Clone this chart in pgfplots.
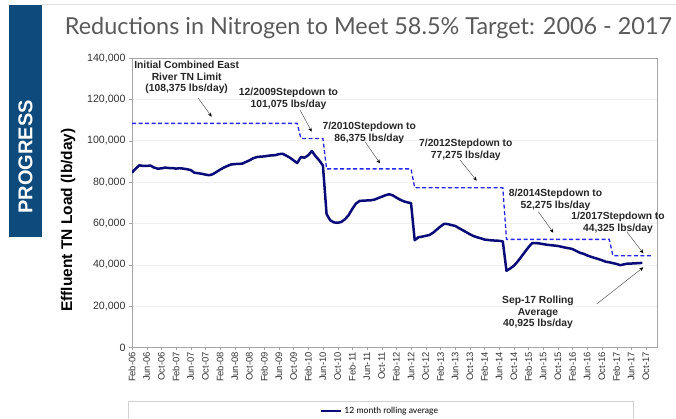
\documentclass[border=0pt]{standalone}
\usepackage{fontspec}
\setmainfont{Liberation Sans}
\newfontfamily\titlefont{Lato}
\usepackage{pgfplots}
\pgfplotsset{compat=1.18}
\usetikzlibrary{arrows.meta}
\definecolor{navy}{RGB}{10,10,120}
\definecolor{dashblue}{RGB}{40,40,235}
\definecolor{barblue}{RGB}{14,74,124}
\definecolor{titlegray}{RGB}{90,90,90}
\begin{document}
\begin{tikzpicture}[x=1pt,y=1pt]
\useasboundingbox (0,0) rectangle (676,419);
% left bar
\fill[barblue] (9,182) rectangle (41.5,414);
\node[rotate=90,text=white,font=\fontsize{20}{20}\selectfont\bfseries] at (25.5,262) {PROGRESS};
\draw[gray!25,line width=1pt] (42,414) -- (676,414);
% title
\node[text=titlegray,font=\titlefont\fontsize{23.4}{24}\selectfont,anchor=center] at (368.5,391) {Reductions in Nitrogen to Meet 58.5\% Target: 2006 - 2017};
% y label
\node[rotate=90,font=\fontsize{15.5}{16}\selectfont\bfseries] at (68,199) {Effluent TN Load (lb/day)};
% legend box
\draw[gray!35,line width=0.6pt] (128,-5) rectangle (633,18);
\begin{axis}[
  at={(132pt,71.5pt)}, anchor=south west,
  width=525pt, height=289.5pt, scale only axis,
  xmin=0, xmax=143, ymin=0, ymax=140000,
  ytick={0,20000,40000,60000,80000,100000,120000,140000},
  scaled y ticks=false,
  /pgf/number format/fixed,
  /pgf/number format/1000 sep={,},
  /pgf/number format/assume math mode=true,
  y tick label style={font=\fontsize{10.6}{11}\selectfont, text=black!80},
  xtick={0,4,...,140},
  xticklabels={Feb-06,Jun-06,Oct-06,Feb-07,Jun-07,Oct-07,Feb-08,Jun-08,Oct-08,Feb-09,Jun-09,Oct-09,Feb-10,Jun-10,Oct-10,Feb-11,Jun-11,Oct-11,Feb-12,Jun-12,Oct-12,Feb-13,Jun-13,Oct-13,Feb-14,Jun-14,Oct-14,Feb-15,Jun-15,Oct-15,Feb-16,Jun-16,Oct-16,Feb-17,Jun-17,Oct-17},
  x tick label style={rotate=90, anchor=east, font=\fontsize{9.4}{9}\selectfont, text=black!80, inner sep=1.5pt},
  ymajorgrids, grid style={gray!12, line width=0.5pt},
  axis line style={gray!70},
  tick style={gray!70},
  tick align=outside, major tick length=3pt,
  xtick pos=bottom, ytick pos=left,
  legend style={at={(0.4724,-0.219)}, anchor=center, draw=none, fill=none, font=\titlefont\fontsize{8.6}{9}\selectfont, inner sep=1pt},
  legend image code/.code={\draw[#1] (0pt,0pt) -- (20pt,0pt);},
]
\addplot[navy, line width=2.5pt, line join=round] table {
x y
0 84600
1 86500
2 88100
3 87800
4 87800
5 88000
6 87000
7 86500
8 86600
9 87000
10 86800
11 86800
12 86500
13 86700
14 86500
15 86200
16 85800
17 84500
18 84300
19 84000
20 83600
21 83300
22 83800
23 84900
24 86000
25 87000
26 87800
27 88500
28 88700
29 88800
30 88900
31 89700
32 90500
33 91500
34 92100
35 92300
36 92400
37 92700
38 92900
39 93000
40 93500
41 93700
42 92800
43 91800
44 90500
45 89200
46 92100
47 91800
48 93000
49 95000
50 92500
51 90500
52 88000
53 64500
54 61500
55 60500
56 60300
57 60700
58 62000
59 64000
60 67000
61 69600
62 70900
63 71000
64 71100
65 71200
66 71500
67 72200
68 72900
69 73600
70 74100
71 73600
72 72500
73 71500
74 70700
75 70200
76 69800
77 51900
78 53300
79 53600
80 54000
81 54400
82 55500
83 57000
84 58500
85 59800
86 59700
87 59200
88 58800
89 57800
90 56800
91 55800
92 54800
93 53900
94 53300
95 52800
96 52200
97 52000
98 51800
99 51700
100 51600
101 51300
102 37100
103 38200
104 39500
105 41500
106 43800
107 46200
108 48500
109 50500
110 50500
111 50300
112 50000
113 49700
114 49500
115 49300
116 49100
117 48700
118 48300
119 48000
120 47600
121 46700
122 45800
123 45300
124 44500
125 43900
126 43300
127 42800
128 42200
129 41500
130 41200
131 40800
132 40400
133 39800
134 40200
135 40600
136 40600
137 40700
138 40800
139 40925
};
\addlegendentry{12 month rolling average}
\addplot[dashblue, line width=1.3pt, dash pattern=on 4pt off 2.5pt, forget plot] table {
x y
0 108375
45 108375
46 101075
52 101075
53 86375
76 86375
77 77275
101 77275
102 52275
130 52275
131 44325
142 44325
};
\end{axis}
% annotations
\tikzset{ann/.style={font=\fontsize{10.3}{11.8}\selectfont\bfseries, align=center, text=black!85, inner sep=0pt},
         arr/.style={gray!70!black, line width=0.5pt, -{Stealth[length=4pt,width=3.5pt,black]}}}
\node[ann] at (186.7,341.5) {Initial Combined East\\River TN Limit\\(108,375 lbs/day)};
\draw[arr] (198.3,320.7) -- (211.7,302.3);
\node[ann] at (288.5,320) {12/2009Stepdown to\\101,075 lbs/day};
\draw[arr] (300,309) -- (311.7,287.3);
\node[ann] at (369.3,286) {7/2010Stepdown to\\86,375 lbs/day};
\draw[arr] (365,277.3) -- (380,255.7);
\node[ann] at (465.8,269) {7/2012Stepdown to\\77,275 lbs/day};
\draw[arr] (460,259) -- (476.7,238.3);
\node[ann] at (555.5,219) {8/2014Stepdown to\\52,275 lbs/day};
\draw[arr] (538.3,207.3) -- (553.3,186.3);
\node[ann] at (618,196) {1/2017Stepdown to\\44,325 lbs/day};
\draw[arr] (626.7,187.3) -- (643.3,165.7);
\node[ann] at (538,106.5) {Sep-17 Rolling\\Average\\40,925 lbs/day};
\draw[arr] (596.7,115) -- (643.3,151.7);
\end{tikzpicture}
\end{document}
